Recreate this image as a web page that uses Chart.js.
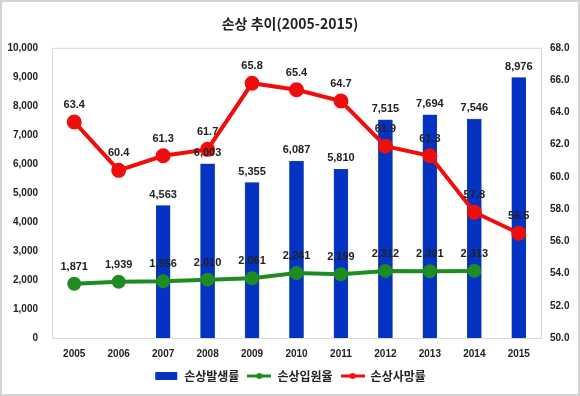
<!DOCTYPE html>
<html>
<head>
<meta charset="utf-8">
<script src="https://cdn.jsdelivr.net/npm/chart.js@4.4.1/dist/chart.umd.min.js"></script>
<style>
  html, body { margin: 0; padding: 0; background: #fff; }
  #box { width: 580px; height: 396px; }
</style>
</head>
<body>
<div id="box"><canvas id="chart" width="580" height="396"></canvas></div>
<script>
const years = ["2005", "2006", "2007", "2008", "2009", "2010", "2011", "2012", "2013", "2014", "2015"];
const incidence = [null, null, 4563, 6003, 5355, 6087, 5810, 7515, 7694, 7546, 8976];
const hospital = [1871, 1939, 1956, 2010, 2061, 2241, 2199, 2312, 2301, 2313, null];
const death = [63.4, 60.4, 61.3, 61.7, 65.8, 65.4, 64.7, 61.9, 61.3, 57.8, 56.5];
const legendOrder = ["손상발생률", "손상입원율", "손상사망률"];

const blue = "#0433c4";
const green = "#1f8c22";
const red = "#f00d0d";
const font = "'Liberation Sans', 'Noto Sans CJK KR', sans-serif";

// legend swatches like excel: rect for bars, line with dot for lines
function swatch(color, isLine) {
  const c = document.createElement("canvas");
  c.width = 24; c.height = 10;
  const g = c.getContext("2d");
  if (isLine) {
    g.strokeStyle = color; g.lineWidth = 3;
    g.beginPath(); g.moveTo(0, 5); g.lineTo(24, 5); g.stroke();
    g.fillStyle = color;
    g.beginPath(); g.arc(12, 5, 3, 0, Math.PI * 2); g.fill();
  } else {
    g.fillStyle = color;
    g.fillRect(1, 1, 22, 8);
  }
  return c;
}

const fmtInt = v => v.toLocaleString("en-US");

const frame = {
  id: "frame",
  beforeDraw(chart) {
    const ctx = chart.ctx;
    ctx.save();
    ctx.fillStyle = "#fff";
    ctx.fillRect(0, 0, chart.width, chart.height);
    ctx.strokeStyle = "#d4d4d4";
    ctx.lineWidth = 2;
    ctx.strokeRect(1, 1, chart.width - 2, chart.height - 2);
    const a = chart.chartArea;
    ctx.strokeStyle = "#d9d9d9";
    ctx.lineWidth = 1;
    ctx.strokeRect(a.left + 0.5, a.top + 0.5, a.right - a.left, a.bottom - a.top);
    ctx.restore();
  }
};

const valueLabels = {
  id: "valueLabels",
  afterDatasetsDraw(chart) {
    const ctx = chart.ctx;
    ctx.save();
    ctx.font = "bold 11px " + font;
    ctx.fillStyle = "#222";
    ctx.textAlign = "center";
    ctx.textBaseline = "middle";
    chart.data.datasets.forEach((ds, i) => {
      const meta = chart.getDatasetMeta(i);
      meta.data.forEach((el, j) => {
        const v = ds.data[j];
        if (v == null) return;
        const txt = ds.yAxisID === "y1" ? v.toFixed(1) : fmtInt(v);
        const dy = ds.type === "bar" ? 11 : 17;
        ctx.fillText(txt, el.x, el.y - dy);
      });
    });
    ctx.restore();
  }
};

new Chart("chart", {
  data: {
    labels: years,
    datasets: [
      {
        type: "line",
        label: "손상사망률",
        data: death,
        yAxisID: "y1",
        borderColor: red,
        backgroundColor: red,
        borderWidth: 4,
        pointRadius: 5.5,
        pointHoverRadius: 5.5,
        order: 1
      },
      {
        type: "line",
        label: "손상입원율",
        data: hospital,
        yAxisID: "y",
        borderColor: green,
        backgroundColor: green,
        borderWidth: 4,
        pointRadius: 5,
        pointHoverRadius: 5,
        order: 2
      },
      {
        type: "bar",
        label: "손상발생률",
        data: incidence,
        yAxisID: "y",
        backgroundColor: blue,
        borderColor: "#1a4f8a",
        borderWidth: 0.5,
        barThickness: 14,
        order: 3
      }
    ]
  },
  options: {
    responsive: false,
    animation: false,
    layout: { padding: { left: 0, right: 0, top: 0, bottom: 4 } },
    plugins: {
      title: {
        display: true,
        text: "손상 추이(2005-2015)",
        color: "#222",
        font: { family: "'Noto Sans CJK KR', sans-serif", size: 14, weight: "bold" },
        padding: { top: 15, bottom: 16 }
      },
      legend: {
        position: "bottom",
        labels: {
          color: "#222",
          font: { family: "'Noto Sans CJK KR', sans-serif", size: 12, weight: "bold" },
          usePointStyle: true,
          pointStyleWidth: 24,
          padding: 8,
          sort: (a, b) => legendOrder.indexOf(a.text) - legendOrder.indexOf(b.text),
          generateLabels(chart) {
            return chart.data.datasets.map((ds, i) => ({
              text: ds.label,
              fontColor: "#222",
              pointStyle: swatch(ds.type === "bar" ? blue : ds.borderColor, ds.type !== "bar"),
              datasetIndex: i,
              hidden: false,
              lineWidth: 0
            }));
          }
        }
      },
      tooltip: { enabled: false }
    },
    scales: {
      x: {
        grid: { display: false, drawTicks: false },
        border: { display: false },
        ticks: { color: "#222", font: { family: font, size: 10, weight: "bold" }, padding: 10 },
        afterFit(s) { s.height = 24; }
      },
      y: {
        position: "left",
        min: 0,
        max: 10000,
        grid: { display: false, drawTicks: false },
        border: { display: false },
        ticks: {
          stepSize: 1000,
          color: "#222",
          padding: 14,
          font: { family: font, size: 10, weight: "bold" },
          callback: v => fmtInt(v)
        },
        afterFit(s) { s.width = 52; }
      },
      y1: {
        position: "right",
        min: 50,
        max: 68,
        grid: { display: false, drawTicks: false },
        border: { display: false },
        ticks: {
          stepSize: 2,
          color: "#222",
          padding: 9,
          font: { family: font, size: 10, weight: "bold" },
          callback: v => v.toFixed(1)
        },
        afterFit(s) { s.width = 39; }
      }
    }
  },
  plugins: [frame, valueLabels]
});
</script>
</body>
</html>
